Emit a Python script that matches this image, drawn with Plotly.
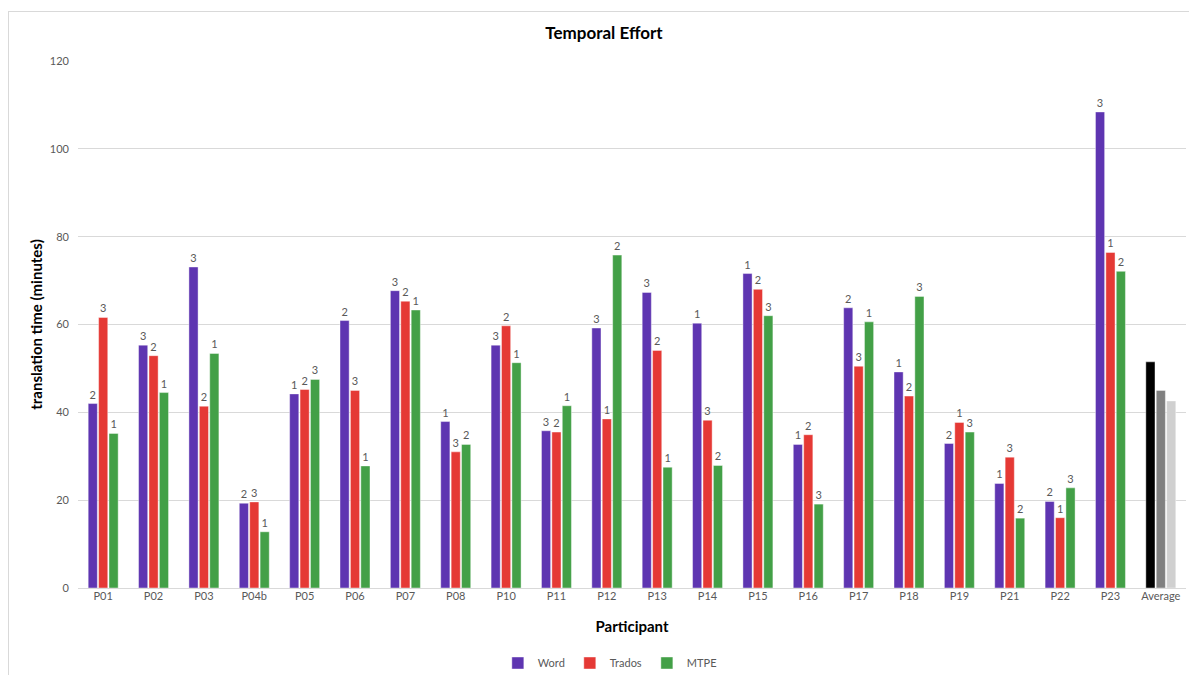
import plotly.graph_objects as go

participants = ["P01", "P02", "P03", "P04b", "P05", "P06", "P07", "P08", "P10", "P11", "P12",
                "P13", "P14", "P15", "P16", "P17", "P18", "P19", "P21", "P22", "P23", "Average"]

word =   [42.0, 55.3, 73.1, 19.3, 44.2, 60.9, 67.7, 37.9, 55.3, 35.8, 59.2,
          67.3, 60.3, 71.6, 32.7, 63.8, 49.2, 32.9, 23.8, 19.7, 108.4, 51.5]
trados = [61.6, 52.9, 41.4, 19.6, 45.2, 45.0, 65.3, 31.0, 59.7, 35.5, 38.5,
          54.1, 38.2, 68.0, 34.9, 50.5, 43.7, 37.7, 29.8, 16.0, 76.4, 45.0]
mtpe =   [35.2, 44.5, 53.4, 12.8, 47.5, 27.8, 63.3, 32.7, 51.3, 41.5, 75.8,
          27.5, 27.9, 62.0, 19.1, 60.6, 66.4, 35.5, 15.9, 22.8, 72.1, 42.6]

word_rank =   ["2", "3", "3", "2", "1", "2", "3", "1", "3", "3", "3",
               "3", "1", "1", "1", "2", "1", "2", "1", "2", "3", ""]
trados_rank = ["3", "2", "2", "3", "2", "3", "2", "3", "2", "2", "1",
               "2", "3", "2", "2", "3", "2", "1", "3", "1", "1", ""]
mtpe_rank =   ["1", "1", "1", "1", "3", "1", "1", "2", "1", "1", "2",
               "1", "2", "3", "3", "1", "3", "3", "2", "3", "2", ""]

series = [
    ("Word", word, word_rank, "#5e35b1", "#000000"),
    ("Trados", trados, trados_rank, "#e53935", "#808080"),
    ("MTPE", mtpe, mtpe_rank, "#43a047", "#d0d0d0"),
]

fig = go.Figure()
n = len(participants)
for name, vals, ranks, col, avgcol in series:
    colors = [col] * (n - 1) + [avgcol]
    fig.add_trace(go.Bar(
        name=name, x=participants, y=vals, text=ranks,
        textposition="outside", cliponaxis=False,
        textfont=dict(size=11, color="#595959"),
        marker=dict(color=colors, line=dict(width=0.6, color="rgba(255,255,255,0.7)")),
    ))

L, R, T, B = 78, 3, 61, 87
W, H = 1189, 675
pw = W - L - R
ph = H - T - B

fig.update_layout(
    width=W, height=H,
    margin=dict(l=L, r=R, t=T, b=B, autoexpand=False),
    paper_bgcolor="white", plot_bgcolor="white",
    font=dict(family="Lato, Open Sans, sans-serif", color="#595959", size=11),
    barmode="group", bargap=0.38, bargroupgap=0.12,
    title=dict(text="<b>Temporal Effort</b>", x=0.508, xanchor="center",
               y=1 - 33 / H, yanchor="middle",
               font=dict(size=17, color="#000000")),
    showlegend=True,
    legend=dict(orientation="h", x=0.48, xanchor="center", y=-(663 - 588) / ph, yanchor="middle",
                bgcolor="rgba(0,0,0,0)",
                font=dict(size=11, color="#595959"), itemwidth=30, tracegroupgap=0),
    xaxis=dict(showgrid=False, ticks="", showline=False, zeroline=False,
               tickfont=dict(size=11, color="#595959"),
               title=dict(text="<b>Participant</b>", standoff=20,
                          font=dict(size=15, color="#000000"))),
    yaxis=dict(range=[0, 120], dtick=20, showgrid=True, gridcolor="#d9d9d9", gridwidth=1,
               zeroline=True, zerolinecolor="#d9d9d9", zerolinewidth=1,
               ticks="", showline=False, tickfont=dict(size=11, color="#595959"),
               ticklabelstandoff=8,
               title=dict(text="<b>translation time (minutes)</b>", standoff=3,
                          font=dict(size=15, color="#000000"))),
)

# chart-area border (top and left edges visible in the reference)
fig.add_shape(type="line", xref="paper", yref="paper",
              x0=(8 - L) / pw, x1=(1195 - L) / pw,
              y0=(588 - 11.5) / ph, y1=(588 - 11.5) / ph,
              line=dict(color="#d9d9d9", width=1), layer="below")
fig.add_shape(type="line", xref="paper", yref="paper",
              x0=(8.5 - L) / pw, x1=(8.5 - L) / pw,
              y0=(588 - 11.5) / ph, y1=(588 - 680) / ph,
              line=dict(color="#d9d9d9", width=1), layer="below")

fig.write_html("out.html", config={"displayModeBar": False},
               post_script="document.body.style.margin='0';")
